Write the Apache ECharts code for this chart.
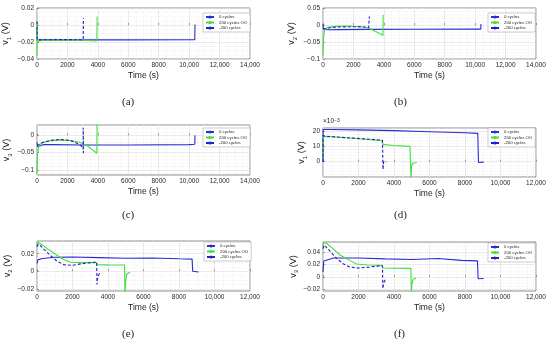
<!DOCTYPE html>
<html><head><meta charset="utf-8">
<script src="https://cdn.jsdelivr.net/npm/echarts@6/dist/echarts.min.js"></script>
<style>html,body{margin:0;padding:0;background:#fff}#c{width:550px;height:347px}</style>
</head><body><div id="c"></div><script>
// ---- data ----
const seriesNames = ['0 cycles', '200 cycles OO', '-200 cycles'];
const xTicks14 = [0, 2000, 4000, 6000, 8000, 10000, 12000, 14000];
const xTicks12 = [0, 2000, 4000, 6000, 8000, 10000, 12000];
const a_yTicks = [-0.04, -0.02, 0, 0.02];
const b_yTicks = [-0.1, -0.05, 0, 0.05];
const c_yTicks = [-0.1, -0.05, 0];
const d_yTicks = [0, 10, 20];
const e_yTicks = [-0.02, 0, 0.02];
const f_yTicks = [-0.02, 0, 0.02, 0.04];

// (a) v1
const a_c0 = [[0,-0.004],[20,-0.018],[200,-0.0175],[3000,-0.0175],[6000,-0.0175],[10370,-0.0172],[10385,0.0005]];
const a_oo = [[0,-0.036],[10,0.004],[40,-0.019],[500,-0.018],[2000,-0.0178],[3000,-0.0178],[3500,-0.0185],[3930,-0.0188],[3940,-0.0175],[3955,0.01]];
const a_m200 = [[0,0.004],[15,-0.0175],[1000,-0.0172],[2000,-0.0172],[3040,-0.0174],[3050,0.008]];
// (b) v2
const b_c0 = [[0,0.003],[30,-0.012],[100,-0.015],[300,-0.014],[1000,-0.0135],[3000,-0.013],[6000,-0.0125],[10000,-0.012],[10370,-0.012],[10385,0.003]];
const b_oo = [[0,-0.09],[30,-0.04],[100,-0.015],[300,-0.007],[800,-0.004],[1500,-0.003],[2500,-0.005],[3000,-0.009],[3500,-0.02],[3940,-0.03],[3955,0.03]];
const b_m200 = [[0,-0.012],[50,-0.015],[300,-0.009],[1000,-0.006],[2000,-0.005],[2800,-0.006],[3000,-0.008],[3040,-0.013],[3050,0.025]];
// (c) v3
const c_c0 = [[0,-0.02],[50,-0.033],[150,-0.03],[400,-0.027],[1000,-0.027],[3000,-0.028],[6000,-0.028],[10000,-0.027],[10370,-0.026],[10385,0.0]];
const c_oo = [[0,-0.11],[30,-0.06],[100,-0.035],[300,-0.022],[800,-0.016],[1500,-0.013],[2200,-0.015],[2800,-0.02],[3300,-0.03],[3600,-0.04],[3930,-0.052],[3950,0.04]];
const c_m200 = [[0,-0.03],[100,-0.03],[400,-0.02],[1000,-0.014],[1500,-0.012],[2200,-0.015],[2600,-0.022],[2900,-0.03],[3030,-0.04],[3040,0.022],[3050,-0.052]];
// (d) v1 (x10^-3)
const d_c0 = [[0,0],[5,21],[500,21],[2000,20.8],[4000,20.3],[6000,19.6],[8000,18.9],[8720,18.5],[8760,-0.5],[9050,-0.3]];
const d_oo = [[0,3],[5,16.5],[500,16.3],[1500,15.5],[2500,14.5],[3300,13.8],[3400,11.3],[3600,11],[4000,10.6],[4900,10],[4960,-12],[4985,-3],[5050,-1],[5280,-0.5]];
const d_m200 = [[0,0],[5,17],[300,16.5],[1500,15.5],[2500,14.8],[3350,14],[3380,-5],[3400,-4],[3420,0],[3600,0]];
// (e) v2
const e_c0 = [[0,0.009],[50,0.013],[300,0.0145],[1000,0.016],[2000,0.0162],[3500,0.0155],[5000,0.0148],[6500,0.0152],[8000,0.0142],[8740,0.0138],[8770,0.0],[8850,-0.001],[9100,-0.0008]];
const e_oo = [[0,0.029],[30,0.0335],[150,0.032],[500,0.027],[1000,0.02],[1500,0.0135],[1900,0.0102],[2500,0.0098],[3350,0.0098],[3400,0.0075],[4000,0.0073],[4930,0.0071],[4960,-0.03],[4990,-0.012],[5060,-0.003],[5250,-0.001]];
const e_m200 = [[0,0.028],[80,0.031],[300,0.027],[700,0.019],[1100,0.012],[1500,0.0075],[2000,0.0068],[2500,0.0085],[3000,0.0098],[3360,0.0105],[3380,-0.015],[3420,-0.007],[3500,-0.003],[3600,-0.001]];
// (f) v3
const f_c0 = [[0,0.008],[40,0.026],[150,0.029],[600,0.031],[2000,0.031],[3500,0.0295],[5000,0.0285],[6500,0.03],[7800,0.027],[8700,0.0262],[8740,-0.003],[8850,-0.0025],[9050,-0.0025]];
const f_oo = [[0,0.05],[40,0.056],[200,0.055],[600,0.045],[1000,0.035],[1500,0.027],[1900,0.021],[2500,0.0195],[3300,0.019],[3400,0.0145],[4000,0.0142],[4950,0.014],[4980,-0.03],[5000,-0.012],[5080,-0.004],[5250,-0.002]];
const f_m200 = [[0,0.046],[60,0.052],[300,0.045],[700,0.032],[1100,0.022],[1500,0.016],[2000,0.0145],[2600,0.016],[3000,0.0175],[3350,0.0185],[3370,-0.019],[3420,-0.01],[3500,-0.005],[3600,-0.003]];

// ---- layout ----
const panels = [
  {left:37, top:8, w:213, h:51, xMax:14000, xT:xTicks14, yMin:-0.04, yMax:0.02, yT:a_yTicks, yStep:0.005, sub:'1', gap:25, lg:[203,13], cap:[130,104,'(a)'], d:[a_c0,a_oo,a_m200]},
  {left:323, top:8, w:213, h:51, xMax:14000, xT:xTicks14, yMin:-0.1, yMax:0.05, yT:b_yTicks, yStep:0.01, sub:'2', gap:25, lg:[488,13], cap:[402,104,'(b)'], d:[b_c0,b_oo,b_m200]},
  {left:37, top:125, w:213, h:50, xMax:14000, xT:xTicks14, yMin:-0.115, yMax:0.03, yT:c_yTicks, yStep:0.01, sub:'3', gap:24, lg:[203,128], cap:[130,217,'(c)'], d:[c_c0,c_oo,c_m200]},
  {left:323, top:128, w:213, h:49, xMax:12000, xT:xTicks12, yMin:-10, yMax:22, yT:d_yTicks, yStep:2, sub:'1', gap:15, lg:[488,128], cap:[402,217,'(d)'], d:[d_c0,d_oo,d_m200]},
  {left:37, top:241, w:213, h:50, xMax:12000, xT:xTicks12, yMin:-0.0225, yMax:0.0345, yT:e_yTicks, yStep:0.005, sub:'2', gap:20, lg:[204,242], cap:[130,336,'(e)'], d:[e_c0,e_oo,e_m200]},
  {left:323, top:242, w:213, h:49, xMax:12000, xT:xTicks12, yMin:-0.023, yMax:0.057, yT:f_yTicks, yStep:0.005, sub:'3', gap:19, lg:[488,243], cap:[402,336,'(f)'], d:[f_c0,f_oo,f_m200]}
];
const colors = ['#2b2bd8', '#3fe03f', '#2222c4'];
const lineTypes = ['solid', 'solid', [3, 2]];
const FONT = 'Liberation Sans';

function steps(min, max, step) {
  const out = [];
  let v = Math.ceil(min / step - 1e-9) * step;
  while (v <= max + 1e-12) { out.push(Math.round(v * 1e6) / 1e6); v += step; }
  return out;
}
function fmtY(v) { return v < 0 ? '\u2212' + Math.abs(v) : String(v); }
function fmtX(v) { return v >= 10000 ? String(v).replace(/\B(?=(\d{3})+(?!\d))/g, ',') : String(v); }

const grid = [], xAxis = [], yAxis = [], series = [], legend = [], graphic = [];
panels.forEach((p, i) => {
  grid.push({left:p.left, top:p.top, width:p.w, height:p.h, show:true, borderColor:'#404040', borderWidth:0.6, backgroundColor:'#fff'});
  const minorX = steps(0, p.xMax, 500);
  const minorY = steps(p.yMin, p.yMax, p.yStep);
  xAxis.push({
    gridIndex:i, type:'value', min:0, max:p.xMax,
    name:'Time (s)', nameLocation:'middle', nameGap:12.5,
    nameTextStyle:{fontSize:8.5, fontFamily:FONT, color:'#222'},
    axisLine:{show:false},
    axisTick:{show:true, inside:true, length:2, customValues:p.xT, lineStyle:{color:'#404040', width:0.5}},
    axisLabel:{customValues:p.xT, formatter:fmtX, fontSize:6.5, fontFamily:FONT, color:'#262626', margin:3},
    splitLine:{show:true, lineStyle:{color:'#d8d8d8', width:0.5}}
  });
  xAxis.push({
    gridIndex:i, type:'value', min:0, max:p.xMax,
    axisLine:{show:false}, axisLabel:{show:false},
    axisTick:{show:false, customValues:minorX},
    splitLine:{show:true, lineStyle:{color:'#e6e6e6', width:0.5, type:[1,1]}}
  });
  yAxis.push({
    gridIndex:i, type:'value', min:p.yMin, max:p.yMax,
    name:'{a|v}{s|' + p.sub + '}{a| (V)}', nameLocation:'middle', nameGap:p.gap,
    nameTextStyle:{fontFamily:FONT, color:'#222', rich:{
      a:{fontSize:9, fontFamily:FONT, color:'#222', lineHeight:12},
      s:{fontSize:6, fontFamily:FONT, color:'#222', lineHeight:6, verticalAlign:'bottom'}
    }},
    axisLine:{show:false},
    axisTick:{show:true, inside:true, length:2, customValues:p.yT, lineStyle:{color:'#404040', width:0.5}},
    axisLabel:{customValues:p.yT, formatter:fmtY, fontSize:6.5, fontFamily:FONT, color:'#262626', margin:3},
    splitLine:{show:true, lineStyle:{color:'#d8d8d8', width:0.5}}
  });
  yAxis.push({
    gridIndex:i, type:'value', min:p.yMin, max:p.yMax,
    axisLine:{show:false}, axisLabel:{show:false},
    axisTick:{show:false, customValues:minorY},
    splitLine:{show:true, lineStyle:{color:'#e6e6e6', width:0.5, type:[1,1]}}
  });
  p.d.forEach((arr, k) => {
    series.push({
      type:'line', name:seriesNames[k], xAxisIndex:2*i, yAxisIndex:2*i,
      data:arr, symbol:'none', showSymbol:false, clip:true, z:2+k,
      color:colors[k],
      lineStyle:{color:colors[k], width:1.1, type:lineTypes[k]}
    });
  });
  legend.push({
    left:p.lg[0], top:p.lg[1], orient:'vertical', itemWidth:8, itemHeight:4, itemGap:1.5,
    padding:[2,3,2,2], backgroundColor:'#fff', borderColor:'#999', borderWidth:0.5,
    textStyle:{fontSize:4.3, fontFamily:FONT, color:'#222'},
    data:seriesNames
  });
  graphic.push({type:'text', left:p.cap[0] - 8, top:p.cap[1] - 7,
    style:{text:p.cap[2], font:'11px "Liberation Serif"', fill:'#222'}});
});
graphic.push({type:'text', left:323, top:118,
  style:{text:'{a|\u00d710}{s|\u22123}', rich:{a:{fontSize:6.5, fontFamily:FONT, fill:'#222'}, s:{fontSize:5, fontFamily:FONT, fill:'#222', verticalAlign:'top'}}}});

const chart = echarts.init(document.getElementById('c'), null, {renderer:'canvas'});
chart.setOption({animation:false, backgroundColor:'#fff', grid, xAxis, yAxis, series, legend, graphic});
</script></body></html>
